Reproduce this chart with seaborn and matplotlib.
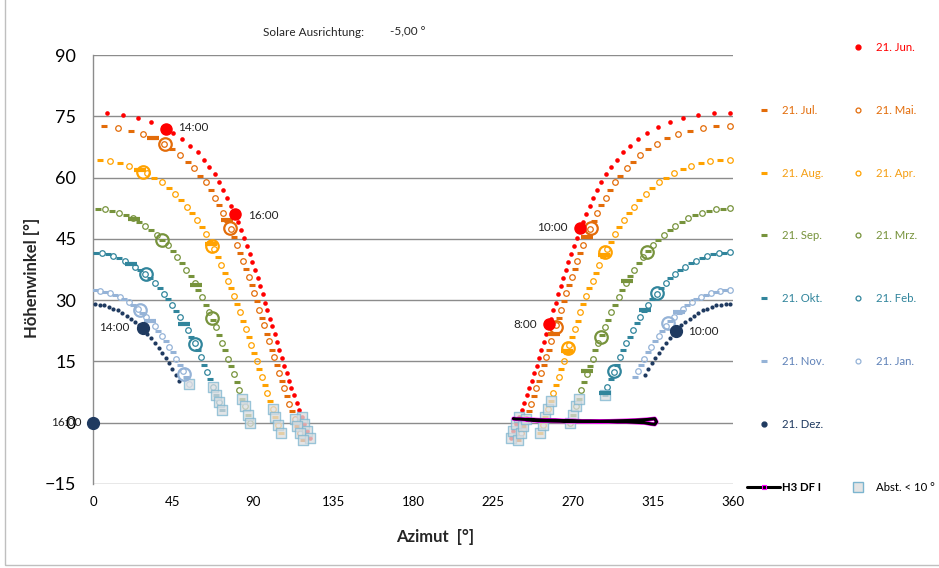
import numpy as np
import pandas as pd
import seaborn as sns
import matplotlib.pyplot as plt
from matplotlib.lines import Line2D
from matplotlib.patches import Rectangle

# sun path values: azimut [deg] / hoehenwinkel [deg], morning -> evening

jun_az = [234.9, 236.5, 238.1, 239.6, 241.1, 242.5, 244.0, 245.4, 246.8, 248.2, 249.5, 250.9, 252.2, 253.6,
          254.9, 256.2, 257.6, 258.9, 260.3, 261.7, 263.0, 264.5, 265.9, 267.4, 268.9, 270.4, 272.0, 273.7,
          275.5, 277.3, 279.3, 281.4, 283.6, 286.0, 288.6, 291.5, 294.7, 298.2, 302.2, 306.7, 311.8, 317.7,
          324.3, 331.8, 340.1, 349.1, 358.5,
          7.9, 16.9, 25.2, 32.7, 39.3, 45.2, 50.3, 54.8, 58.8, 62.3, 65.5, 68.4, 71.0, 73.4, 75.6, 77.7,
          79.7, 81.5, 83.3, 85.0, 86.6, 88.1, 89.7, 91.1, 92.6, 94.0, 95.4, 96.7, 98.1, 99.4, 100.8, 102.1,
          103.4, 104.8, 106.1, 107.5, 108.9, 110.2, 111.6, 113.0, 114.5, 115.9, 117.4, 118.9, 120.5, 122.1]
jun_alt = [-3.8, -2.1, -0.4, 1.3, 3.1, 4.9, 6.7, 8.5, 10.3, 12.2, 14.0, 15.9, 17.8, 19.7, 21.6, 23.6, 25.5,
           27.5, 29.4, 31.4, 33.4, 35.3, 37.3, 39.3, 41.3, 43.3, 45.2, 47.2, 49.2, 51.2, 53.1, 55.1, 57.0,
           58.9, 60.8, 62.6, 64.4, 66.2, 67.8, 69.5, 71.0, 72.3, 73.5, 74.5, 75.3, 75.8, 75.9,
           75.8, 75.3, 74.5, 73.5, 72.3, 71.0, 69.5, 67.8, 66.2, 64.4, 62.6, 60.8, 58.9, 57.0, 55.1, 53.1,
           51.2, 49.2, 47.2, 45.2, 43.3, 41.3, 39.3, 37.3, 35.3, 33.4, 31.4, 29.4, 27.5, 25.5, 23.6, 21.6,
           19.7, 17.8, 15.9, 14.0, 12.2, 10.3, 8.5, 6.7, 4.9, 3.1, 1.3, -0.4, -2.1, -3.8]

mai_az = [240.5, 243.5, 246.5, 249.4, 252.2, 255.0, 257.8, 260.6, 263.4, 266.3, 269.3, 272.5, 275.9, 279.6,
          283.7, 288.3, 293.7, 300.1, 307.8, 317.3, 329.0, 343.0, 358.5,
          14.0, 28.0, 39.7, 49.2, 56.9, 63.3, 68.7, 73.3, 77.4, 81.1, 84.5, 87.7, 90.7, 93.6, 96.4, 99.2,
          102.0, 104.8, 107.6, 110.5, 113.5, 116.5]
mai_alt = [-2.6, 1.0, 4.6, 8.4, 12.1, 16.0, 19.9, 23.8, 27.7, 31.7, 35.6, 39.6, 43.5, 47.5, 51.3, 55.1, 58.8,
           62.3, 65.5, 68.3, 70.6, 72.2, 72.7,
           72.2, 70.6, 68.3, 65.5, 62.3, 58.8, 55.1, 51.3, 47.5, 43.5, 39.6, 35.6, 31.7, 27.7, 23.8, 19.9,
           16.0, 12.1, 8.4, 4.6, 1.0, -2.6]

jul_az = [238.9, 242.0, 245.0, 248.0, 250.8, 253.6, 256.4, 259.2, 262.0, 264.8, 267.8, 270.9, 274.2, 277.7,
          281.6, 285.9, 290.9, 296.7, 303.8, 312.3, 322.9, 335.8, 350.6,
          6.4, 21.2, 34.1, 44.7, 53.2, 60.3, 66.1, 71.1, 75.4, 79.3, 82.8, 86.1, 89.2, 92.2, 95.0, 97.8,
          100.6, 103.4, 106.2, 109.0, 112.0, 115.0, 118.1]
jul_alt = [-4.3, -0.8, 2.8, 6.5, 10.2, 14.1, 17.9, 21.8, 25.7, 29.7, 33.6, 37.6, 41.6, 45.5, 49.4, 53.2, 57.0,
           60.5, 63.9, 67.0, 69.6, 71.5, 72.6,
           72.6, 71.5, 69.6, 67.0, 63.9, 60.5, 57.0, 53.2, 49.4, 45.5, 41.6, 37.6, 33.6, 29.7, 25.7, 21.8,
           17.9, 14.1, 10.2, 6.5, 2.8, -0.8, -4.3]

apr_az = [253.0, 256.0, 259.0, 262.0, 264.9, 267.9, 271.0, 274.2, 277.5, 281.0, 284.8, 288.9, 293.4, 298.5,
          304.3, 310.8, 318.3, 326.9, 336.6, 347.3, 358.5,
          9.7, 20.4, 30.1, 38.7, 46.2, 52.7, 58.5, 63.6, 68.1, 72.2, 76.0, 79.5, 82.8, 86.0, 89.1, 92.1,
          95.0, 98.0, 101.0, 104.0]
apr_alt = [-0.5, 3.3, 7.2, 11.1, 15.1, 19.1, 23.0, 27.0, 30.9, 34.8, 38.7, 42.4, 46.1, 49.6, 52.9, 56.0, 58.8,
           61.1, 62.9, 64.0, 64.4,
           64.0, 62.9, 61.1, 58.8, 56.0, 52.9, 49.6, 46.1, 42.4, 38.7, 34.8, 30.9, 27.0, 23.0, 19.1, 15.1,
           11.1, 7.2, 3.3, -0.5]

aug_az = [251.5, 254.5, 257.5, 260.5, 263.4, 266.4, 269.4, 272.6, 275.8, 279.2, 282.9, 286.8, 291.1, 295.9,
          301.3, 307.4, 314.4, 322.5, 331.6, 341.8, 352.8,
          4.2, 15.2, 25.4, 34.5, 42.6, 49.6, 55.7, 61.1, 65.9, 70.2, 74.1, 77.8, 81.2, 84.4, 87.6, 90.6,
          93.6, 96.5, 99.5, 102.5, 105.5]
aug_alt = [-2.4, 1.4, 5.3, 9.2, 13.1, 17.1, 21.0, 25.0, 29.0, 32.9, 36.7, 40.5, 44.3, 47.9, 51.3, 54.5, 57.4,
           60.0, 62.1, 63.5, 64.3,
           64.3, 63.5, 62.1, 60.0, 57.4, 54.5, 51.3, 47.9, 44.3, 40.5, 36.7, 32.9, 29.0, 25.0, 21.0, 17.1,
           13.1, 9.2, 5.3, 1.4, -2.4]

mrz_az = [268.5, 271.5, 274.6, 277.8, 281.0, 284.3, 287.9, 291.6, 295.6, 299.8, 304.5, 309.5, 315.0, 321.0,
          327.6, 334.7, 342.3, 350.3, 358.5,
          6.7, 14.7, 22.3, 29.4, 36.0, 42.0, 47.5, 52.5, 57.2, 61.4, 65.4, 69.1, 72.7, 76.0, 79.2, 82.4,
          85.5, 88.5]
mrz_alt = [0.0, 4.0, 7.9, 11.9, 15.7, 19.6, 23.4, 27.1, 30.7, 34.1, 37.4, 40.5, 43.4, 46.0, 48.2, 50.0, 51.4,
           52.2, 52.5,
           52.2, 51.4, 50.0, 48.2, 46.0, 43.4, 40.5, 37.4, 34.1, 30.7, 27.1, 23.4, 19.6, 15.7, 11.9, 7.9,
           4.0, 0.0]

sep_az = [270.0, 273.1, 276.2, 279.4, 282.6, 286.1, 289.7, 293.5, 297.7, 302.1, 306.9, 312.2, 318.0, 324.3,
          331.1, 338.5, 346.3, 354.4,
          2.6, 10.7, 18.5, 25.9, 32.7, 39.0, 44.8, 50.1, 54.9, 59.3, 63.5, 67.3, 70.9, 74.4, 77.6, 80.8,
          83.9, 87.0]
sep_alt = [2.0, 5.9, 9.9, 13.8, 17.7, 21.5, 25.2, 28.9, 32.4, 35.8, 39.0, 42.0, 44.7, 47.1, 49.2, 50.8, 51.9,
           52.4,
           52.4, 51.9, 50.8, 49.2, 47.1, 44.7, 42.0, 39.0, 35.8, 32.4, 28.9, 25.2, 21.5, 17.7, 13.8, 9.9,
           5.9, 2.0]

feb_az = [289.4, 292.8, 296.3, 299.9, 303.8, 307.9, 312.4, 317.1, 322.1, 327.5, 333.2, 339.2, 345.5, 351.9,
          358.5,
          5.1, 11.5, 17.8, 23.8, 29.5, 34.9, 39.9, 44.6, 49.1, 53.2, 57.1, 60.7, 64.2, 67.6, 70.8]
feb_alt = [8.8, 12.4, 16.0, 19.5, 22.8, 25.9, 28.9, 31.6, 34.1, 36.3, 38.2, 39.7, 40.8, 41.5, 41.7,
           41.5, 40.8, 39.7, 38.2, 36.3, 34.1, 31.6, 28.9, 25.9, 22.8, 19.5, 16.0, 12.4, 8.8, 5.0]

okt_az = [287.8, 291.1, 294.5, 298.1, 301.8, 305.8, 310.1, 314.7, 319.5, 324.8, 330.3, 336.2, 342.3, 348.7,
          355.2,
          1.8, 8.3, 14.7, 20.8, 26.7, 32.2, 37.5, 42.3, 46.9, 51.2, 55.2, 58.9, 62.5, 65.9, 69.2, 72.3]
okt_alt = [6.9, 10.6, 14.2, 17.7, 21.1, 24.4, 27.4, 30.3, 32.9, 35.3, 37.3, 39.0, 40.3, 41.2, 41.6,
           41.6, 41.2, 40.3, 39.0, 37.3, 35.3, 32.9, 30.3, 27.4, 24.4, 21.1, 17.7, 14.2, 10.6, 6.9, 3.1]

jan_az = [306.4, 310.1, 314.0, 318.1, 322.4, 327.0, 331.8, 336.8, 342.0, 347.4, 352.9, 358.5,
          4.1, 9.6, 15.0, 20.2, 25.2, 30.0, 34.6, 38.9, 43.0, 46.9, 50.6, 54.1]
jan_alt = [12.7, 15.7, 18.6, 21.3, 23.7, 25.9, 27.9, 29.5, 30.8, 31.7, 32.3, 32.5,
           32.3, 31.7, 30.8, 29.5, 27.9, 25.9, 23.7, 21.3, 18.6, 15.7, 12.7, 9.5]

nov_az = [304.6, 308.2, 312.0, 316.0, 320.2, 324.7, 329.4, 334.3, 339.4, 344.7, 350.2, 355.7,
          1.3, 6.8, 12.3, 17.6, 22.7, 27.6, 32.3, 36.8, 41.0, 45.0, 48.8, 52.4]
nov_alt = [11.1, 14.2, 17.2, 20.0, 22.5, 24.9, 26.9, 28.7, 30.2, 31.3, 32.1, 32.5,
           32.5, 32.1, 31.3, 30.2, 28.7, 26.9, 24.9, 22.5, 20.0, 17.2, 14.2, 11.1]

dez_az = [310.5, 312.3, 314.2, 316.1, 318.1, 320.1, 322.1, 324.3, 326.4, 328.6, 330.9, 333.2, 335.6, 338.0,
          340.5, 343.0, 345.5, 348.1, 350.7, 353.3, 355.9, 358.5,
          1.1, 3.7, 6.3, 8.9, 11.5, 14.0, 16.5, 19.0, 21.4, 23.8, 26.1, 28.4, 30.6, 32.7, 34.9, 36.9,
          38.9, 40.9, 42.8, 44.7, 46.5, 48.3]
dez_alt = [11.6, 13.1, 14.5, 15.8, 17.1, 18.4, 19.6, 20.7, 21.8, 22.8, 23.8, 24.7, 25.5, 26.2, 26.9, 27.5,
           27.9, 28.3, 28.7, 28.9, 29.0, 29.1,
           29.0, 28.9, 28.7, 28.3, 27.9, 27.5, 26.9, 26.2, 25.5, 24.7, 23.8, 22.8, 21.8, 20.7, 19.6, 18.4,
           17.1, 15.8, 14.5, 13.1, 11.6, 10.1]

# full-hour points (8:00, 10:00, 14:00, 16:00)
jun_hr_az, jun_hr_alt = [256.3, 273.7, 41.0, 80.0], [24.1, 47.6, 72.0, 51.0]
mai_hr_az, mai_hr_alt = [260.5, 280.2, 40.3, 77.0], [23.5, 47.7, 68.2, 47.7]
jul_hr_az, jul_hr_alt = [259.1, 277.6, 33.9, 75.3], [21.7, 45.4, 69.6, 49.5]
apr_hr_az, apr_hr_alt = [267.0, 288.0, 28.2, 67.1], [18.3, 41.7, 61.4, 43.2]
aug_hr_az, aug_hr_alt = [266.9, 287.4, 26.7, 66.5], [17.6, 41.1, 61.8, 43.7]
mrz_hr_az, mrz_hr_alt = [285.6, 311.6, 38.8, 66.8], [21.0, 41.7, 44.8, 25.7]
sep_hr_az, sep_hr_alt = [278.0, 300.5, 23.3, 57.8], [12.6, 34.6, 49.9, 33.8]
feb_hr_az, feb_hr_alt = [292.8, 317.3, 29.8, 57.4], [12.6, 31.8, 36.3, 19.3]
okt_hr_az, okt_hr_alt = [288.2, 310.3, 21.6, 51.4], [7.3, 27.6, 38.9, 24.2]
jan_hr_az, jan_hr_alt = [323.4, 26.4, 51.4], [24.3, 27.5, 12.0]
nov_hr_az, nov_hr_alt = [329.5, 32.3], [27.0, 24.9]
dez_hr_az, dez_hr_alt = [327.8, 27.9, 0.0], [22.5, 23.3, 0.0]

# points with distance < 10 deg
abst_az = [117.4, 118.9, 120.5, 122.1, 113.5, 115.0, 116.5, 118.1, 101.0, 102.5, 104.0, 105.5,
           83.9, 85.5, 87.0, 88.5, 67.6, 69.2, 70.8, 72.3, 54.1,
           234.9, 236.5, 238.1, 239.6, 238.9, 240.5, 242.0, 243.5, 251.5, 253.0, 254.5, 256.0, 257.5,
           268.5, 270.0, 271.5, 273.1, 287.8]
abst_alt = [1.3, -0.4, -2.1, -3.8, 1.0, -0.8, -2.6, -4.3, 3.3, 1.4, -0.5, -2.4,
            5.9, 4.0, 2.0, 0.0, 8.8, 6.9, 5.0, 3.1, 9.5,
            -3.8, -2.1, -0.4, 1.3, -4.3, -2.6, -0.8, 1.0, -2.4, -0.5, 1.4, 3.3, 5.3,
            0.0, 2.0, 4.0, 5.9, 6.9]

# horizon H3 DF I
h3_az = [236.5, 238, 240, 243, 246, 250, 255, 260, 265, 270, 275, 280, 285, 290, 295, 300, 305, 310,
         314, 316, 317, 316, 312, 305, 298, 290, 280, 270, 260, 250, 244]
h3_alt = [1.0, 0.9, 0.9, 0.8, 0.8, 0.7, 0.6, 0.6, 0.5, 0.5, 0.4, 0.4, 0.3, 0.3, 0.2, 0.2, 0.1, 0.0,
          -0.3, -0.4, 0.2, 1.0, 0.8, 0.6, 0.5, 0.4, 0.3, 0.3, 0.4, 0.5, 0.7]

c_jun = '#FF0000'
c_mai = '#E36C09'
c_apr = '#FFA200'
c_mrz = '#77933C'
c_feb = '#31859C'
c_jan = '#95B3D7'
c_dez = '#1F3A60'

sns.set_theme(style='white')
plt.rcParams['font.family'] = ['Lato', 'DejaVu Sans']

fig = plt.figure(figsize=(9.39, 5.68), dpi=100)
ax = fig.add_axes([93/939, 84/568, 640/939, 429/568])


def rings(az, alt, c, ms=4, mew=0.9, z=3):
    ax.plot(az, alt, ls='none', marker='o', ms=ms, mfc='none', mec=c, mew=mew, zorder=z)


def dashes(az, alt, c, ms=5, mew=2.2, z=3):
    ax.plot(az, alt, ls='none', marker='_', ms=ms, mew=mew, color=c, zorder=z)


# small markers every few minutes
dashes(nov_az, nov_alt, c_jan)
rings(jan_az, jan_alt, c_jan)
dashes(okt_az, okt_alt, c_feb)
rings(feb_az, feb_alt, c_feb)
dashes(sep_az, sep_alt, c_mrz)
rings(mrz_az, mrz_alt, c_mrz)
dashes(aug_az, aug_alt, c_apr)
rings(apr_az, apr_alt, c_apr)
dashes(jul_az, jul_alt, c_mai)
rings(mai_az, mai_alt, c_mai)
sns.scatterplot(x=dez_az, y=dez_alt, ax=ax, color=c_dez, s=9, linewidth=0, zorder=3)
sns.scatterplot(x=jun_az, y=jun_alt, ax=ax, color=c_jun, s=11, linewidth=0, zorder=3)

# abst < 10 deg and horizon
sns.scatterplot(x=abst_az, y=abst_alt, ax=ax, marker='s', s=42, color='#DADDE0', alpha=0.75,
                edgecolor='#7CB5CF', linewidth=1.0, zorder=4)
ax.plot(h3_az, h3_alt, color='#FF00FF', lw=3.0, zorder=5)
ax.plot(h3_az, h3_alt, color='black', lw=2.2, zorder=5)

# full hours
dashes(nov_hr_az, nov_hr_alt, c_jan, ms=9, mew=3, z=6)
rings(jan_hr_az, jan_hr_alt, c_jan, ms=9, mew=1.6, z=6)
dashes(okt_hr_az, okt_hr_alt, c_feb, ms=9, mew=3, z=6)
rings(feb_hr_az, feb_hr_alt, c_feb, ms=9, mew=1.6, z=6)
dashes(sep_hr_az, sep_hr_alt, c_mrz, ms=9, mew=3, z=6)
rings(mrz_hr_az, mrz_hr_alt, c_mrz, ms=9, mew=1.6, z=6)
dashes(aug_hr_az, aug_hr_alt, c_apr, ms=9, mew=3, z=6)
rings(apr_hr_az, apr_hr_alt, c_apr, ms=9, mew=1.6, z=6)
dashes(jul_hr_az, jul_hr_alt, c_mai, ms=9, mew=3, z=6)
rings(mai_hr_az, mai_hr_alt, c_mai, ms=9, mew=1.6, z=6)
ax.plot(dez_hr_az, dez_hr_alt, ls='none', marker='o', ms=8.5, color=c_dez, zorder=6, clip_on=False)
ax.plot(jun_hr_az, jun_hr_alt, ls='none', marker='o', ms=8, color=c_jun, zorder=6)

tk = dict(fontsize=8.5, va='center', color='#222222', zorder=7)
ax.text(47.8, 72.2, '14:00', **tk)
ax.text(87.2, 50.6, '16:00', **tk)
ax.text(267.2, 47.7, '10:00', ha='right', **tk)
ax.text(249.7, 24.1, '8:00', ha='right', **tk)
ax.text(20.3, 23.3, '14:00', ha='right', **tk)
ax.text(334.6, 22.3, '10:00', **tk)
ax.text(-6.2, 0, '16:00', ha='right', clip_on=False, **tk)

ax.set_xlim(0, 360)
ax.set_ylim(-15, 90)
ax.set_xticks(np.arange(0, 361, 45))
ax.set_yticks(np.arange(-15, 91, 15))
ax.yaxis.grid(True, color='#8C8C8C', lw=1.0)
ax.xaxis.grid(False)
for s in ['top', 'right', 'bottom']:
    ax.spines[s].set_visible(False)
ax.spines['left'].set_color('#8C8C8C')
ax.spines['left'].set_linewidth(1.0)
ax.tick_params(axis='y', length=0, pad=12, labelsize=13, labelcolor='black')
ax.tick_params(axis='x', length=0, pad=9, labelsize=9.5, labelcolor='black')
ax.set_xlabel('')
ax.set_ylabel('')

fig.text(32/939, 1 - 278/568, 'Höhenwinkel [°]', rotation=90, ha='center', va='center',
         fontsize=12, fontweight='bold')
fig.text(435/939, 1 - 537/568, 'Azimut  [°]', ha='center', va='center', fontsize=12, fontweight='bold')
fig.text(263/939, 1 - 32/568, 'Solare Ausrichtung:', ha='left', va='center', fontsize=8.5)
fig.text(390/939, 1 - 32/568, '-5,00 °', ha='left', va='center', fontsize=8.5)

fig.add_artist(Rectangle((5/939, 3/568), 1.2, 1.2, transform=fig.transFigure, fill=False,
                         ec='#BFBFBF', lw=1.0))


# legend, two columns like the original
def h_dot(c, ms):
    return Line2D([], [], ls='none', marker='o', ms=ms, color=c)


def h_ring(c):
    return Line2D([], [], ls='none', marker='o', ms=3.5, mfc='none', mec=c, mew=0.9)


def h_dash(c):
    return Line2D([], [], ls='none', marker='_', ms=5, mew=2.2, color=c)


blank = Line2D([], [], ls='none')
h3 = Line2D([], [], color='black', lw=2.2, marker='s', ms=2.5, mfc='none', mec='#FF00FF', mew=0.8)
abst = Line2D([], [], ls='none', marker='s', ms=7, mfc='#E4E4E4', mec='#7CB5CF', mew=1.0)

handles = [blank, h_dash(c_mai), h_dash(c_apr), h_dash(c_mrz), h_dash(c_feb), h_dash(c_jan),
           h_dot(c_dez, 3.5), h3,
           h_dot(c_jun, 3.5), h_ring(c_mai), h_ring(c_apr), h_ring(c_mrz), h_ring(c_feb), h_ring(c_jan),
           blank, abst]
labels = ['', '21. Jul.', '21. Aug.', '21. Sep.', '21. Okt.', '21. Nov.', '21. Dez.', 'H3 DF I',
          '21. Jun.', '21. Mai.', '21. Apr.', '21. Mrz.', '21. Feb.', '21. Jan.', '', 'Abst. < 10 °']
lcolors = ['black', c_mai, '#F59E12', c_mrz, c_feb, '#5F82B8', c_dez, 'black',
           c_jun, c_mai, '#F59E12', c_mrz, c_feb, '#5F82B8', 'black', 'black']
leg = fig.legend(handles, labels, ncol=2, loc='upper left', bbox_to_anchor=(747/939, 1 - 42/568),
                 frameon=False, fontsize=8.2, labelcolor=lcolors, numpoints=1,
                 handlelength=2.9, handletextpad=0.2, columnspacing=1.45,
                 labelspacing=4.55, borderpad=0, borderaxespad=0)
for t in leg.get_texts():
    if t.get_text() == 'H3 DF I':
        t.set_fontweight('bold')

fig.savefig('out.png', dpi=100)
